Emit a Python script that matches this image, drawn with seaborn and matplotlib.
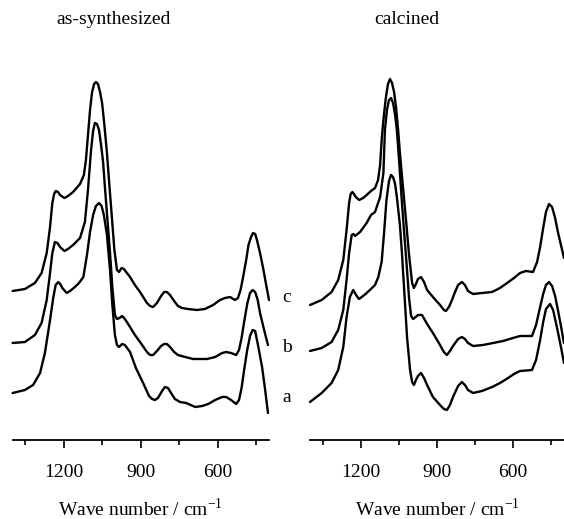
import numpy as np
import pandas as pd
import seaborn as sns
import matplotlib
matplotlib.use("Agg")
import matplotlib.pyplot as plt

sns.set_theme(style="white")
plt.rcParams['font.family'] = ['Liberation Serif', 'DejaVu Serif']
plt.rcParams['mathtext.fontset'] = 'custom'
plt.rcParams['mathtext.rm'] = 'Liberation Serif'

# %% data (wave number / cm-1, stacked intensity a.u.)
# as-synthesized, curve a
as_a_x = [1400, 1352, 1320, 1293, 1274, 1254, 1241, 1232, 1222, 1214, 1206, 1189, 1176, 1157, 1141, 1124, 1110,
          1098, 1086, 1075, 1063, 1053, 1044, 1032, 1020, 1011, 1001, 993, 985, 973, 962, 942, 919, 891, 868,
          856, 845, 833, 817, 806, 794, 782, 767, 747, 723, 688, 661, 637, 610, 583, 567, 548, 528, 517, 507,
          497, 485, 474, 464, 454, 443, 427, 415, 404]
as_a_y = [0.47, 0.50, 0.55, 0.67, 0.87, 1.20, 1.43, 1.55, 1.58, 1.56, 1.52, 1.47, 1.49, 1.53, 1.57, 1.63, 1.85,
          2.08, 2.25, 2.34, 2.37, 2.34, 2.25, 2.05, 1.70, 1.35, 1.05, 0.95, 0.93, 0.96, 0.95, 0.88, 0.72, 0.57,
          0.44, 0.41, 0.40, 0.42, 0.49, 0.53, 0.52, 0.47, 0.41, 0.38, 0.37, 0.33, 0.34, 0.36, 0.40, 0.43, 0.43,
          0.40, 0.36, 0.40, 0.52, 0.70, 0.90, 1.04, 1.10, 1.09, 0.95, 0.73, 0.50, 0.27]
# as-synthesized, curve b
as_b_x = [1400, 1352, 1313, 1287, 1267, 1254, 1245, 1235, 1225, 1215, 1198, 1184, 1164, 1137, 1118, 1106, 1094,
          1086, 1079, 1071, 1063, 1055, 1047, 1040, 1030, 1020, 1011, 1001, 993, 983, 973, 962, 942, 923, 903,
          876, 864, 852, 837, 821, 809, 798, 786, 770, 755, 727, 696, 642, 610, 583, 567, 548, 528, 517, 507,
          497, 485, 474, 464, 454, 444, 435, 419, 404]
as_b_y = [0.97, 0.98, 1.05, 1.17, 1.40, 1.67, 1.87, 1.98, 1.97, 1.93, 1.89, 1.91, 1.95, 2.02, 2.18, 2.50, 2.90,
          3.09, 3.17, 3.16, 3.10, 2.95, 2.78, 2.53, 2.20, 1.87, 1.53, 1.25, 1.21, 1.22, 1.24, 1.21, 1.13, 1.05,
          0.98, 0.88, 0.85, 0.85, 0.89, 0.94, 0.96, 0.96, 0.93, 0.88, 0.85, 0.83, 0.81, 0.81, 0.83, 0.87, 0.88,
          0.87, 0.85, 0.90, 1.02, 1.18, 1.36, 1.47, 1.50, 1.48, 1.40, 1.27, 1.10, 0.95]
# as-synthesized, curve c
as_c_x = [1400, 1352, 1313, 1287, 1267, 1254, 1245, 1238, 1232, 1223, 1215, 1198, 1184, 1164, 1137, 1122, 1114,
          1106, 1098, 1090, 1082, 1075, 1067, 1059, 1051, 1042, 1032, 1022, 1012, 1003, 993, 985, 975, 966, 954,
          942, 923, 903, 876, 864, 852, 837, 821, 809, 798, 786, 770, 755, 739, 716, 681, 650, 618, 591, 572,
          552, 533, 521, 511, 501, 489, 480, 470, 462, 454, 447, 435, 423, 411, 400]
as_c_y = [1.49, 1.51, 1.57, 1.67, 1.87, 2.13, 2.37, 2.46, 2.49, 2.48, 2.45, 2.42, 2.44, 2.48, 2.56, 2.65, 2.80,
          3.05, 3.30, 3.48, 3.56, 3.58, 3.56, 3.48, 3.37, 3.15, 2.87, 2.53, 2.20, 1.90, 1.70, 1.68, 1.72, 1.71,
          1.67, 1.63, 1.55, 1.48, 1.37, 1.34, 1.33, 1.37, 1.44, 1.48, 1.48, 1.45, 1.39, 1.34, 1.32, 1.31, 1.30,
          1.31, 1.35, 1.40, 1.42, 1.43, 1.40, 1.42, 1.50, 1.63, 1.80, 1.95, 2.03, 2.07, 2.06, 2.00, 1.87, 1.72,
          1.55, 1.40]
# calcined, curve a
ca_a_x = [1400, 1354, 1315, 1289, 1269, 1256, 1243, 1230, 1216, 1207, 1191, 1177, 1160, 1144, 1131, 1118, 1109,
          1099, 1089, 1081, 1073, 1065, 1058, 1046, 1038, 1028, 1018, 1006, 998, 991, 983, 975, 963, 951, 939,
          916, 888, 873, 861, 849, 837, 817, 802, 790, 778, 758, 723, 683, 652, 620, 597, 573, 526, 510, 494,
          482, 471, 455, 443, 428, 412, 400]
ca_a_y = [0.38, 0.47, 0.57, 0.70, 0.93, 1.23, 1.43, 1.50, 1.44, 1.41, 1.44, 1.47, 1.51, 1.55, 1.63, 1.78, 2.05,
          2.40, 2.59, 2.65, 2.63, 2.56, 2.43, 2.15, 1.87, 1.45, 1.03, 0.70, 0.58, 0.55, 0.60, 0.64, 0.67, 0.62,
          0.55, 0.43, 0.35, 0.31, 0.30, 0.35, 0.43, 0.54, 0.58, 0.55, 0.50, 0.47, 0.49, 0.53, 0.57, 0.62, 0.66,
          0.69, 0.70, 0.80, 1.00, 1.18, 1.31, 1.36, 1.30, 1.13, 0.93, 0.77]
# calcined, curve b
ca_b_x = [1400, 1354, 1315, 1289, 1269, 1256, 1246, 1236, 1229, 1223, 1203, 1177, 1160, 1144, 1124, 1111, 1105,
          1097, 1089, 1081, 1073, 1065, 1058, 1048, 1038, 1028, 1018, 1010, 1002, 994, 984, 975, 959, 939, 916,
          888, 873, 861, 849, 837, 817, 802, 790, 778, 758, 719, 679, 640, 601, 573, 526, 510, 494, 482, 471,
          459, 447, 435, 424, 412, 400]
ca_b_y = [0.89, 0.92, 0.98, 1.10, 1.30, 1.60, 1.87, 2.05, 2.06, 2.04, 2.08, 2.17, 2.25, 2.28, 2.43, 2.67, 3.10,
          3.30, 3.40, 3.42, 3.37, 3.25, 3.10, 2.75, 2.37, 2.03, 1.70, 1.42, 1.24, 1.21, 1.23, 1.25, 1.25, 1.16,
          1.07, 0.95, 0.88, 0.85, 0.89, 0.94, 1.01, 1.03, 1.01, 0.97, 0.94, 0.95, 0.97, 0.99, 1.02, 1.04, 1.04,
          1.15, 1.33, 1.46, 1.55, 1.58, 1.54, 1.44, 1.30, 1.14, 0.97]
# calcined, curve c
ca_c_x = [1400, 1354, 1315, 1289, 1269, 1256, 1246, 1240, 1233, 1227, 1220, 1206, 1191, 1177, 1160, 1144, 1132,
          1124, 1117, 1109, 1101, 1093, 1085, 1077, 1069, 1061, 1053, 1046, 1034, 1022, 1010, 998, 991, 983, 975,
          963, 951, 939, 916, 888, 873, 865, 853, 841, 829, 817, 802, 790, 778, 758, 723, 683, 652, 624, 597,
          573, 550, 522, 506, 494, 482, 471, 459, 447, 435, 424, 412, 400]
ca_c_y = [1.35, 1.40, 1.48, 1.60, 1.80, 2.10, 2.37, 2.46, 2.48, 2.46, 2.43, 2.40, 2.42, 2.45, 2.49, 2.52, 2.60,
          2.75, 3.03, 3.25, 3.43, 3.56, 3.61, 3.57, 3.48, 3.32, 3.10, 2.87, 2.53, 2.20, 1.85, 1.57, 1.52, 1.56,
          1.61, 1.63, 1.58, 1.50, 1.43, 1.35, 1.30, 1.29, 1.33, 1.40, 1.48, 1.55, 1.58, 1.55, 1.49, 1.46, 1.47,
          1.48, 1.52, 1.57, 1.62, 1.67, 1.69, 1.68, 1.78, 1.93, 2.12, 2.28, 2.36, 2.33, 2.22, 2.08, 1.95, 1.82]

panels = [("as-synthesized", [(as_a_x, as_a_y), (as_b_x, as_b_y), (as_c_x, as_c_y)]),
          ("calcined", [(ca_a_x, ca_a_y), (ca_b_x, ca_b_y), (ca_c_x, ca_c_y)])]
curve_labels = ["a", "b", "c"]
label_y = [0.43, 0.93, 1.42]

# %% figure
fig = plt.figure(figsize=(5.64, 5.19), dpi=100)
ax1 = fig.add_axes([12.6 / 564, 79 / 519, 256.4 / 564, 380 / 519])
ax2 = fig.add_axes([310 / 564, 79 / 519, 254 / 564, 380 / 519])

for ax, (title, curves) in zip([ax1, ax2], panels):
    for cx, cy in curves:
        df = pd.DataFrame({'wn': cx, 'A': cy})
        sns.lineplot(data=df, x='wn', y='A', color='black', linewidth=1.7, ax=ax, sort=False,
                     clip_on=False, estimator=None, solid_joinstyle='round', solid_capstyle='round')
    ax.set_xlim(1400, 400)
    ax.set_ylim(0, 3.8)
    for s in ['top', 'left', 'right']:
        ax.spines[s].set_visible(False)
    ax.spines['bottom'].set_linewidth(1.3)
    ax.spines['bottom'].set_color('black')
    ax.set_yticks([])
    ax.set_ylabel('')
    ax.set_xticks([1200, 900, 600])
    ax.set_xticks([1350, 1050, 750, 450], minor=True)
    ax.tick_params(axis='x', which='major', direction='out', length=6, width=1.2, color='black',
                   bottom=True, labelsize=14, pad=11, labelcolor='black')
    ax.tick_params(axis='x', which='minor', direction='out', length=3.5, width=1.2, color='black', bottom=True)
    ax.set_xlabel(r'Wave number / cm$^{\mathregular{-1}}$', fontsize=14, color='black', labelpad=12)
    ax.patch.set_alpha(0)

fig.text(114 / 564, 1 - 20 / 519, "as-synthesized", ha='center', va='center', fontsize=14, color='black')
fig.text(407 / 564, 1 - 20 / 519, "calcined", ha='center', va='center', fontsize=14, color='black')

for lab, ly in zip(curve_labels, label_y):
    ax1.text(330, ly, lab, ha='center', va='center', fontsize=14, color='black', clip_on=False)

fig.savefig('out.png', dpi=100, facecolor='white')
